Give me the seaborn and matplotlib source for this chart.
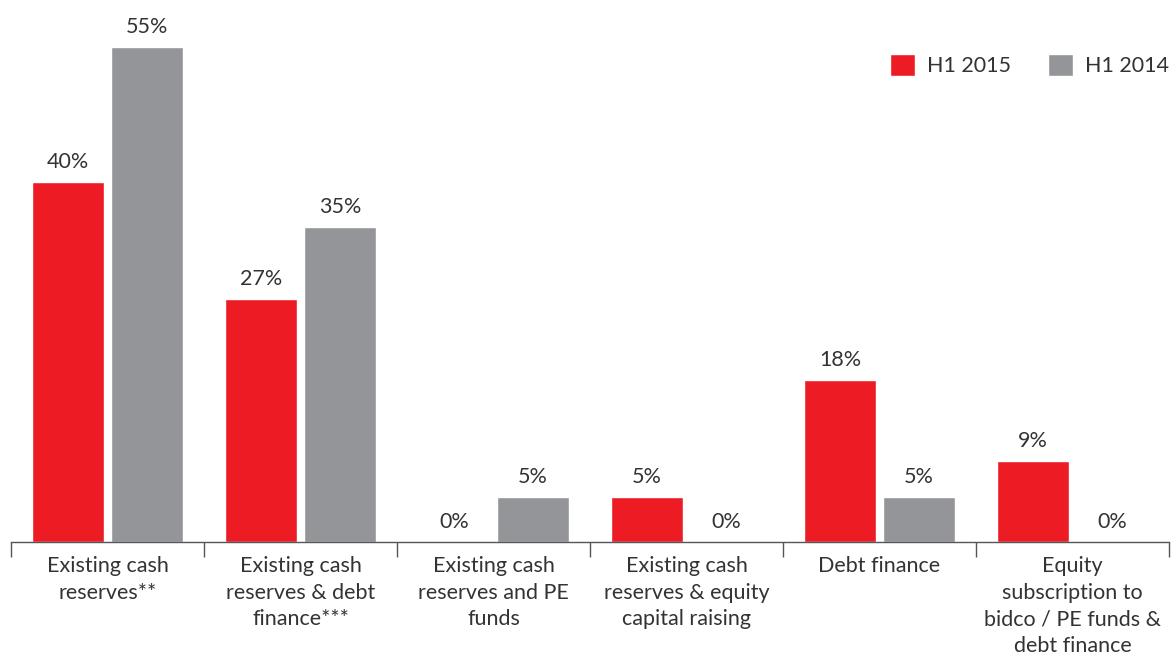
import matplotlib
matplotlib.use("Agg")
import matplotlib.pyplot as plt
import seaborn as sns
import pandas as pd

categories = [
    "Existing cash\nreserves**",
    "Existing cash\nreserves & debt\nfinance***",
    "Existing cash\nreserves and PE\nfunds",
    "Existing cash\nreserves & equity\ncapital raising",
    "Debt finance",
    "Equity\nsubscription to\nbidco / PE funds &\ndebt finance",
]
series_names = ["H1 2015", "H1 2014"]
h1_2015 = [40, 27, 0, 5, 18, 9]
h1_2014 = [55, 35, 5, 0, 5, 0]

colors = {"H1 2015": "#ED1C24", "H1 2014": "#939598"}
text_color = "#333333"

df = pd.DataFrame({
    "category": categories * 2,
    "series": [series_names[0]] * len(categories) + [series_names[1]] * len(categories),
    "value": h1_2015 + h1_2014,
})

sns.set_theme(style="white")
plt.rcParams["font.family"] = ["Lato", "DejaVu Sans"]

fig = plt.figure(figsize=(11.71, 6.55), dpi=100)
ax = fig.add_axes([11 / 1171, 1 - 542 / 655, 1158 / 1171, 522 / 655])

sns.barplot(data=df, x="category", y="value", hue="series", order=categories,
            hue_order=series_names, palette=colors, width=0.82, gap=0.08,
            saturation=1, ax=ax)

for cont in ax.containers:
    ax.bar_label(cont, labels=[f"{v:.0f}%" for v in cont.datavalues],
                 padding=7, fontsize=15.5, color=text_color)

ax.set_ylim(0, 58)
ax.set_xlim(-0.5, len(categories) - 0.5)
ax.set_xlabel("")
ax.set_ylabel("")
ax.set_yticks([])
for s in ["top", "right", "left"]:
    ax.spines[s].set_visible(False)
ax.spines["bottom"].set_color("#555555")
ax.spines["bottom"].set_linewidth(1)

ax.set_xticks(range(len(categories)))
ax.set_xticklabels(categories, fontsize=15.5, color=text_color, linespacing=1.42, va="top")
ax.tick_params(axis="x", which="major", length=0, pad=10)
ax.set_xticks([i - 0.5 for i in range(len(categories) + 1)], minor=True)
ax.tick_params(axis="x", which="minor", length=11, width=1, color="#555555", direction="out", bottom=True)

leg = ax.legend(loc="center right", bbox_to_anchor=(1.0, 0.913), frameon=False, ncol=2,
                fontsize=15.5, handlelength=1.16, handleheight=1.16, handletextpad=0.56,
                columnspacing=1.72, borderaxespad=0, borderpad=0, labelcolor=text_color)

fig.savefig("out.png", dpi=100)
